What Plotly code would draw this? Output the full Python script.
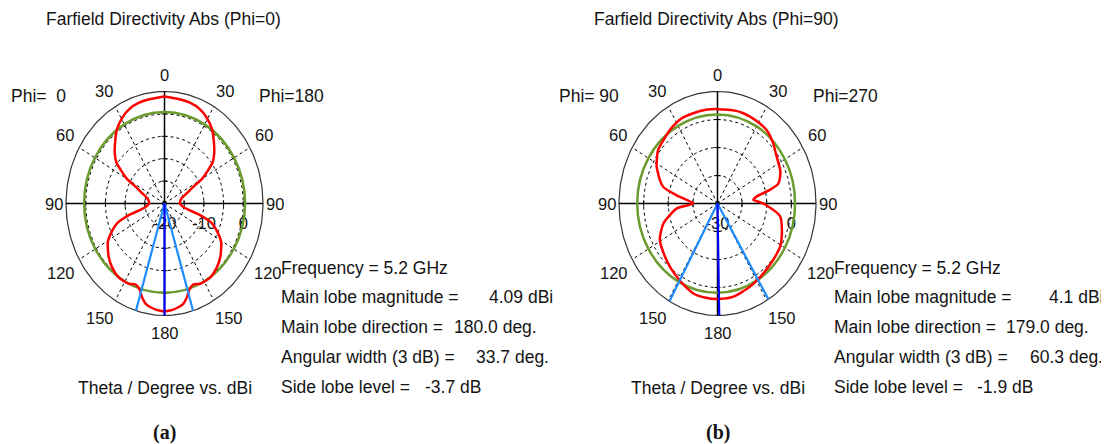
import numpy as np
import plotly.graph_objects as go

# ------------------------------------------------------------------ data
# Plot angle in degrees (0 at top, clockwise) and directivity in dBi
# (a) Farfield Directivity Abs (Phi=0)
theta_red_a = [0, 8, 16, 23, 29, 36, 41, 48, 53, 56, 60, 63, 68, 75, 90, 101, 106, 110, 116, 121,
               130, 137, 145, 153, 158, 162, 165, 168, 172, 176, 180,
               184, 188, 192, 195, 198, 202, 207, 215, 223, 230, 239, 244, 250, 254, 259, 270,
               285, 292, 297, 300, 304, 307, 312, 319, 324, 331, 337, 344, 352, 360]
dbi_red_a = [3.9, 3.6, 3.4, 2.9, 2.0, 0.5, -1.0, -3.0, -4.7, -6.6, -9.0, -11.8, -13.9, -15.5, -16.1, -14.7,
             -10.6, -7.3, -4.9, -3.2, -1.5, -0.5, 0.2, 0.1, -0.5, 0.3, 1.8, 2.9, 3.5, 3.9, 4.09,
             3.9, 3.5, 2.9, 1.8, 0.3, -0.5, 0.1, 0.2, -0.5, -1.5, -3.2, -4.9, -7.3, -10.6, -14.7, -16.1,
             -15.5, -13.9, -11.8, -9.0, -6.6, -4.7, -3.0, -1.0, 0.5, 2.0, 2.9, 3.4, 3.6, 3.9]
theta_green = [0, 30, 60, 90, 120, 150, 180, 210, 240, 270, 300, 330, 360]
dbi_green_a = [0.4, 0.4, 0.4, 0.45, 0.3, 0.1, -0.1, 0.1, 0.3, 0.4, 0.4, 0.4, 0.4]

# (b) Farfield Directivity Abs (Phi=90)
theta_red_b = [0, 13, 18, 23, 30, 37, 46, 55, 65, 70, 74, 77, 81, 85, 88, 92, 100, 112, 121, 132,
               143, 156, 169, 179,
               188, 197, 205, 212, 220, 228, 241, 252, 264, 270, 280, 285, 289, 298, 301, 308,
               318, 326, 334, 343, 352, 360]
dbi_red_b = [3.7, 3.95, 3.9, 3.7, 3.4, 3.0, 1.3, -0.7, -1.9, -3.0, -4.3, -8.0, -13.9, -15.4, -13.0, -10.0,
             -4.2, -1.8, -0.3, 0.3, 1.1, 2.5, 3.9, 4.1,
             4.0, 3.6, 2.2, 1.0, -0.2, -1.4, -3.2, -6.9, -13.4, -20.2, -13.2, -7.2, -5.4, -2.0, -1.2, 0.7,
             1.8, 2.9, 3.7, 3.7, 3.8, 3.7]
dbi_green_b = [1.8, 1.8, 1.6, 1.5, 1.6, 1.8, 1.9, 2.1, 2.4, 2.6, 2.4, 2.0, 1.8]

main_dir_a, width_a = 180.0, 33.7
main_dir_b, width_b = 179.0, 60.3

angle_ticks = [0, 30, 60, 90, 120, 150, 180]
range_a, step_a, rlabels_a = (-20, 5), 5, [-20, -10, 0]
range_b, step_b, rlabels_b = (-30, 10), 10, [-30, 0]

titles = ["Farfield Directivity Abs (Phi=0)", "Farfield Directivity Abs (Phi=90)"]
phi_left = ["Phi=\u00a0\u00a00", "Phi=\u00a090"]
phi_right = ["Phi=180", "Phi=270"]
info_labels = ["Frequency = 5.2 GHz", "Main lobe magnitude =", "Main lobe direction =",
               "Angular width (3 dB) =", "Side lobe level ="]
info_values_a = ["", "4.09 dBi", "180.0 deg.", "33.7 deg.", "-3.7 dB"]
info_values_b = ["", "4.1 dBi", "179.0 deg.", "60.3 deg.", "-1.9 dB"]
axis_caption = "Theta / Degree vs. dBi"
panel_tags = ["(a)", "(b)"]

# ------------------------------------------------------------------ layout constants
WIN_W, WIN_H = 1109, 444
OFF = 8                      # page body margin
W, H = WIN_W - OFF, WIN_H - OFF
CENTERS = [(164.5, 203.5), (717.5, 203.5)]   # in window pixels
RH, RV = 98.5, 112.0
PAD = 1.05
FONT = "Liberation Sans, Arial, sans-serif"
TXT = "#141414"
RED, GREEN, BLUE, LBLUE = "#ff0000", "#6b9a2e", "#0000ff", "#1e8cff"
LAB_POS = {0: (0, 1.15), 30: (31.3, 1.176), 60: (58.9, 1.18), 90: (90, 1.125),
           120: (120.6, 1.226), 150: (147.5, 1.21), 180: (180, 1.155)}
INFO_Y = [268, 297, 327, 357, 387]
INFO_X = [281, 834]
VALUE_RIGHT = [[None, 553, 537, 549, 481], [None, 1103, 1089, 1103, 1033]]


def to_xy(theta_deg, dbi, rng):
    r = np.clip((np.asarray(dbi, float) - rng[0]) / (rng[1] - rng[0]), 0, None)
    t = np.radians(np.asarray(theta_deg, float))
    return r * np.sin(t), r * np.cos(t)


def pxx(x):
    return (x - OFF) / W


def pxy(y):
    return 1 - (y - OFF) / H


fig = go.Figure()
annotations = []


def px(x, y, text, xanchor="center", size=17.5, family=FONT):
    annotations.append(dict(x=pxx(x), y=pxy(y), xref="paper", yref="paper", text=text,
                            showarrow=False, xanchor=xanchor, yanchor="middle",
                            borderpad=0, borderwidth=0,
                            font=dict(family=family, size=size, color=TXT)))


panels = [
    dict(rng=range_a, step=step_a, rlabels=rlabels_a, red=(theta_red_a, dbi_red_a),
         green=dbi_green_a, mdir=main_dir_a, width=width_a, vals=info_values_a),
    dict(rng=range_b, step=step_b, rlabels=rlabels_b, red=(theta_red_b, dbi_red_b),
         green=dbi_green_b, mdir=main_dir_b, width=width_b, vals=info_values_b),
]

layout_axes = {}
for k, p in enumerate(panels):
    xa, ya = ("x", "y") if k == 0 else ("x2", "y2")
    cx, cy = CENTERS[k]
    rng = p["rng"]
    span = rng[1] - rng[0]
    tt = np.linspace(0, 2 * np.pi, 241)

    # dashed rings
    for v in np.arange(rng[0] + p["step"], rng[1], p["step"]):
        f = (v - rng[0]) / span
        fig.add_trace(go.Scatter(x=f * np.sin(tt), y=f * np.cos(tt), mode="lines", xaxis=xa, yaxis=ya,
                                 line=dict(color="#000", width=1, dash="3px,3px"), hoverinfo="skip"))
    # dashed spokes
    for a in [30, 60, 120, 150, 210, 240, 300, 330]:
        ar = np.radians(a)
        fig.add_trace(go.Scatter(x=[0, np.sin(ar)], y=[0, np.cos(ar)], mode="lines", xaxis=xa, yaxis=ya,
                                 line=dict(color="#000", width=1, dash="3px,3px"), hoverinfo="skip"))
    # outer ring
    fig.add_trace(go.Scatter(x=np.sin(tt), y=np.cos(tt), mode="lines", xaxis=xa, yaxis=ya,
                             line=dict(color="#333", width=1.2), hoverinfo="skip"))
    # solid axes
    fig.add_trace(go.Scatter(x=[-1, 1, None, 0, 0], y=[0, 0, None, -1, 1], mode="lines", xaxis=xa, yaxis=ya,
                             line=dict(color="#000", width=1.5), hoverinfo="skip"))
    # axis ticks at rings
    tx, ty = [], []
    for v in np.arange(rng[0] + p["step"], rng[1], p["step"]):
        f = (v - rng[0]) / span
        for s in (-1, 1):
            tx += [s * f, s * f, None, -3 / RH, 3 / RH, None]
            ty += [-3 / RV, 3 / RV, None, s * f, s * f, None]
    fig.add_trace(go.Scatter(x=tx, y=ty, mode="lines", xaxis=xa, yaxis=ya,
                             line=dict(color="#000", width=1), hoverinfo="skip"))
    # radial labels (under the curves)
    fig.add_trace(go.Scatter(x=[(v - rng[0]) / span for v in p["rlabels"]],
                             y=[-21.5 / RV] * len(p["rlabels"]),
                             text=[str(v) for v in p["rlabels"]], mode="text", xaxis=xa, yaxis=ya,
                             textfont=dict(family=FONT, size=16.5, color=TXT), cliponaxis=False,
                             hoverinfo="skip"))
    # green curve
    gx, gy = to_xy(theta_green, p["green"], rng)
    fig.add_trace(go.Scatter(x=gx, y=gy, mode="lines", xaxis=xa, yaxis=ya,
                             line=dict(color=GREEN, width=2.5, shape="spline", smoothing=1.0),
                             hoverinfo="skip"))
    # red curve
    rx, ry = to_xy(p["red"][0], p["red"][1], rng)
    fig.add_trace(go.Scatter(x=rx, y=ry, mode="lines", xaxis=xa, yaxis=ya,
                             line=dict(color=RED, width=2.5, shape="spline", smoothing=0.6),
                             hoverinfo="skip"))
    # beam-width lines and main-lobe direction
    for ang, col in [(p["mdir"] - p["width"] / 2, LBLUE), (p["mdir"] + p["width"] / 2, LBLUE),
                     (p["mdir"], BLUE)]:
        ar = np.radians(ang)
        fig.add_trace(go.Scatter(x=[0, np.sin(ar)], y=[0, np.cos(ar)], mode="lines", xaxis=xa, yaxis=ya,
                                 line=dict(color=col, width=2.2), hoverinfo="skip"))

    # angle labels (paper coordinates so they are never hidden)
    for a in angle_ticks:
        la, lr = LAB_POS[a]
        sides = [1] if a in (0, 180) else [1, -1]
        for s in sides:
            ar = np.radians(la)
            px(cx + s * lr * np.sin(ar) * RH, cy - lr * np.cos(ar) * RV, str(a), size=16.5)

    # domains
    layout_axes["xaxis" if k == 0 else "xaxis2"] = dict(
        domain=[pxx(cx - PAD * RH), pxx(cx + PAD * RH)], range=[-PAD, PAD], visible=False,
        anchor=ya, fixedrange=True)
    layout_axes["yaxis" if k == 0 else "yaxis2"] = dict(
        domain=[pxy(cy + PAD * RV), pxy(cy - PAD * RV)], range=[-PAD, PAD], visible=False,
        anchor=xa, fixedrange=True)

    px(cx - 1, 19, titles[k])
    px([38.3, 589][k], 96, phi_left[k])
    px([291.7, 845.5][k], 96, phi_right[k])
    px(cx, 387.5, axis_caption)
    px(cx, 432, "<b>" + panel_tags[k] + "</b>", size=20, family="Liberation Serif, Times New Roman, serif")
    for i, lab in enumerate(info_labels):
        px(INFO_X[k], INFO_Y[i], lab, xanchor="left")
        if p["vals"][i]:
            px(VALUE_RIGHT[k][i], INFO_Y[i], p["vals"][i], xanchor="right")

fig.update_layout(width=W, height=H, margin=dict(l=0, r=0, t=0, b=0), showlegend=False,
                  paper_bgcolor="white", plot_bgcolor="white", annotations=annotations, **layout_axes)
fig.write_html("out.html")
